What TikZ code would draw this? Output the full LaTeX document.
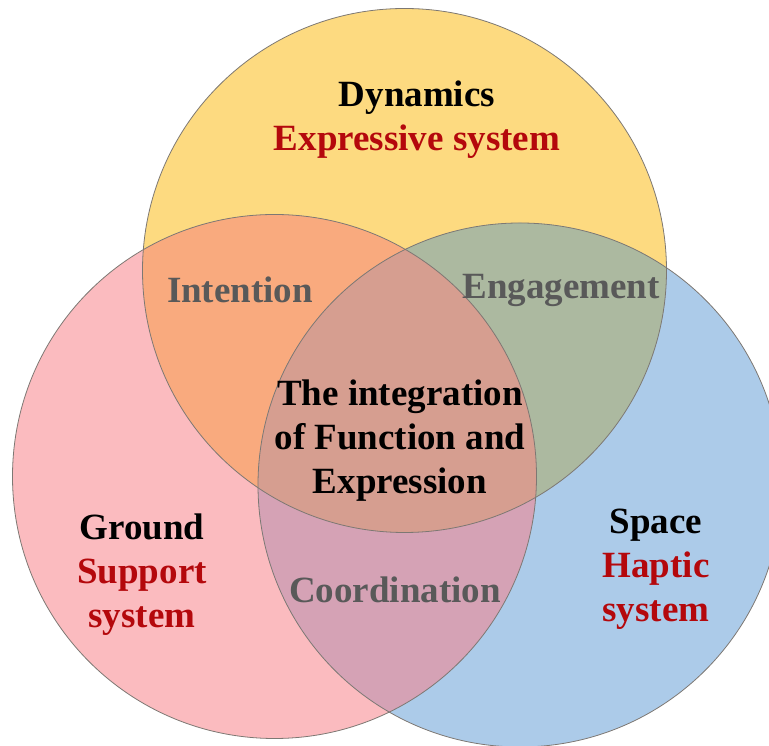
\documentclass[tikz,border=0pt]{standalone}
\usepackage{fontspec}
\setmainfont{Liberation Serif}
\usepackage{xcolor}
\usetikzlibrary{calc}

% circle colours
\definecolor{dynfill}{RGB}{253,218,128}
\definecolor{grdfill}{RGB}{251,187,191}
\definecolor{spcfill}{RGB}{172,203,233}
% overlap colours
\definecolor{dyngrd}{RGB}{249,170,126}
\definecolor{dynspc}{RGB}{172,185,160}
\definecolor{grdspc}{RGB}{213,162,181}
\definecolor{allthree}{RGB}{214,158,144}
% line and text colours
\definecolor{rimgray}{RGB}{125,120,115}
\definecolor{sysred}{RGB}{180,8,12}
\definecolor{ovlgray}{RGB}{89,89,89}

\tikzset{
  rim/.style={draw=rimgray,line width=0.8pt},
  lbl/.style={font=\fontsize{37}{44}\selectfont\bfseries,align=center,inner sep=0pt},
  ovl/.style={lbl,text=ovlgray}
}

\begin{document}
\begin{tikzpicture}[x=1pt,y=1pt]
% circle radius
\newcommand{\crad}{262}
\useasboundingbox (0,0) rectangle (769,746);

% Centres
\coordinate (dync) at (404.5,475.5);
\coordinate (grdc) at (274.5,269.5);
\coordinate (spcc) at (520,261);

% Plain circles
\fill[dynfill] (dync) circle (\crad);
\fill[grdfill] (grdc) circle (\crad);
\fill[spcfill] (spcc) circle (\crad);
% Overlaps
\begin{scope}
  \clip (dync) circle (\crad);
  \fill[dyngrd] (grdc) circle (\crad);
  \fill[dynspc] (spcc) circle (\crad);
\end{scope}
\begin{scope}
  \clip (grdc) circle (\crad);
  \fill[grdspc] (spcc) circle (\crad);
  \clip (dync) circle (\crad);
  \fill[allthree] (spcc) circle (\crad);
\end{scope}
% Rims
\draw[rim] (dync) circle (\crad);
\draw[rim] (grdc) circle (\crad);
\draw[rim] (spcc) circle (\crad);

% Circle labels
\node[lbl] (dyn) at (417,626) {Dynamics\\\textcolor{sysred}{Expressive system}};
\node[lbl] (ground) at (142,171) {Ground\\\textcolor{sysred}{Support}\\\textcolor{sysred}{system}};
\node[lbl] (space) at (656,177) {Space\\\textcolor{sysred}{Haptic}\\\textcolor{sysred}{system}};
% Overlap labels
\node[ovl] (intent) at (240,456) {Intention};
\node[ovl] (engage) at (561,456) {Engagement};
\node[ovl] (coord) at (395,156) {Coordination};
\node[lbl] (core) at (400,305) {The integration\\of Function and\\Expression};
\end{tikzpicture}
\end{document}
